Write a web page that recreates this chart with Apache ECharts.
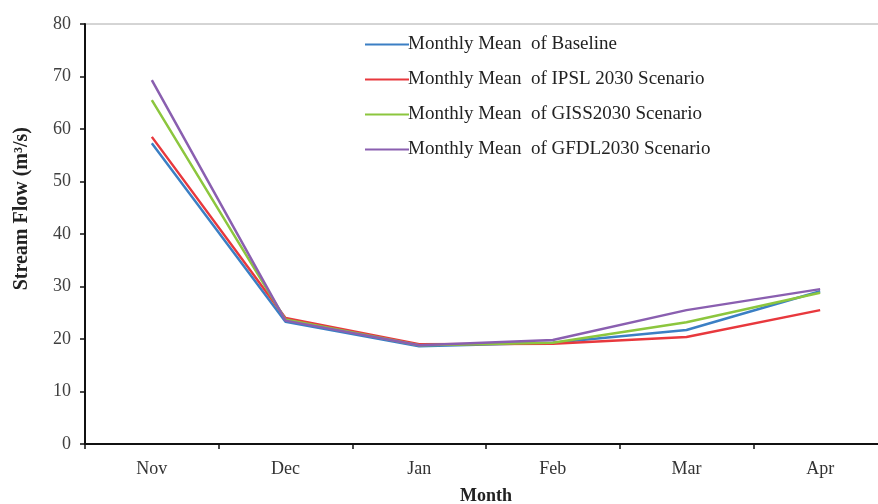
<!DOCTYPE html>
<html>
<head>
<meta charset="utf-8">
<script src="https://cdn.jsdelivr.net/npm/echarts@6/dist/echarts.min.js"></script>
<style>
  html, body { margin: 0; padding: 0; background: #fff; }
  #main { width: 878px; height: 504px; }
</style>
</head>
<body>
<div id="main"></div>
<script>
// months on the x axis
const months = ['Nov', 'Dec', 'Jan', 'Feb', 'Mar', 'Apr'];

// stream flow (m3/s)
const baseline = [57.3, 23.3, 18.6, 19.3, 21.7, 29.1];
const ipsl2030 = [58.5, 24.0, 19.0, 19.1, 20.4, 25.5];
const giss2030 = [65.5, 23.7, 18.8, 19.3, 23.2, 28.8];
const gfdl2030 = [69.3, 23.5, 18.8, 19.8, 25.5, 29.5];

const seriesNames = [
    'Monthly Mean  of Baseline',
    'Monthly Mean  of IPSL 2030 Scenario',
    'Monthly Mean  of GISS2030 Scenario',
    'Monthly Mean  of GFDL2030 Scenario'
];
const colors = ['#3b7fc4', '#e8383d', '#8cc63e', '#8a5fb0'];

const serif = 'Liberation Serif';

function lineSeries(name, data, color) {
    return {
        name: name,
        type: 'line',
        data: data,
        symbol: 'none',
        smooth: false,
        lineStyle: { color: color, width: 2.5 },
        itemStyle: { color: color }
    };
}

const chart = echarts.init(document.getElementById('main'));
chart.setOption({
    animation: false,
    backgroundColor: '#ffffff',
    color: colors,
    // plot runs off the right edge of the picture, like the original
    grid: {
        left: 85, top: 24, width: 802, height: 420,
        outerBoundsMode: 'none',
        containLabel: false,
        show: true, borderColor: '#aaa', borderWidth: 1
    },
    legend: {
        orient: 'vertical',
        left: 360, top: 30,
        itemWidth: 44, itemHeight: 16, itemGap: 16,
        textStyle: { fontFamily: serif, fontSize: 19, color: '#222', padding: [0, 0, 0, -6] },
        data: seriesNames.map((n, i) => ({
            name: n,
            itemStyle: { color: colors[i] },
            icon: 'path://M0,7 L44,7 L44,9 L0,9 Z'
        }))
    },
    graphic: [{
        type: 'text',
        left: 12, top: 127,
        rotation: Math.PI / 2,
        style: {
            text: 'Stream Flow (m³/s)',
            font: 'bold 20px "Liberation Serif"',
            fill: '#222'
        }
    }],
    xAxis: {
        type: 'category',
        data: months,
        boundaryGap: true,
        name: 'Month',
        nameLocation: 'middle',
        nameGap: 43,
        nameTextStyle: { fontFamily: serif, fontSize: 18, fontWeight: 'bold', color: '#222' },
        axisLine: { lineStyle: { color: '#111', width: 2 } },
        axisTick: { show: true, length: 5, alignWithLabel: false, lineStyle: { color: '#111', width: 1.5 } },
        axisLabel: { fontFamily: serif, fontSize: 18, color: '#333', margin: 16 },
        splitLine: { show: false }
    },
    yAxis: {
        type: 'value',
        min: 0, max: 80, interval: 10,
        axisLine: { show: true, lineStyle: { color: '#111', width: 2 } },
        axisTick: { show: true, length: 5, lineStyle: { color: '#111', width: 1.5 } },
        axisLabel: { fontFamily: serif, fontSize: 18, color: '#404040', margin: 14 },
        splitLine: { show: false }
    },
    series: [
        lineSeries(seriesNames[0], baseline, colors[0]),
        lineSeries(seriesNames[1], ipsl2030, colors[1]),
        lineSeries(seriesNames[2], giss2030, colors[2]),
        lineSeries(seriesNames[3], gfdl2030, colors[3])
    ]
});
</script>
</body>
</html>
